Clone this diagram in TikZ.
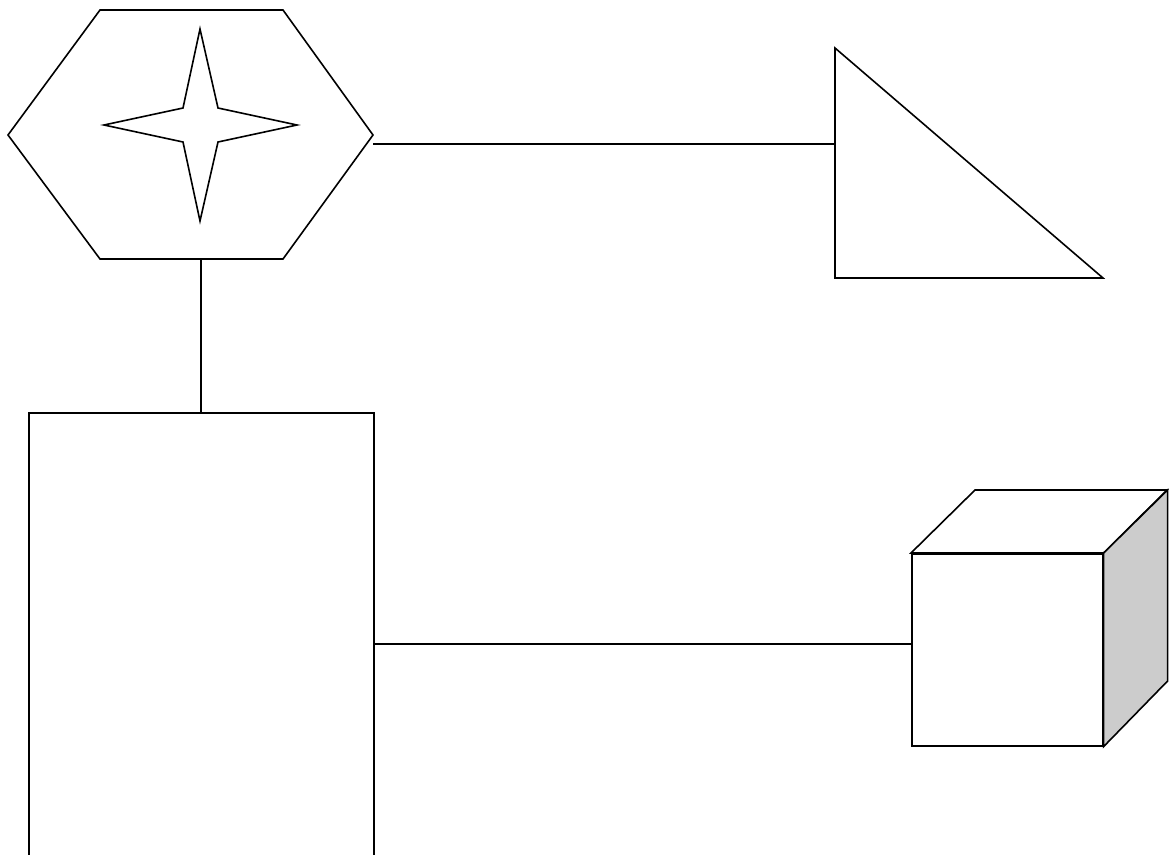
\documentclass[tikz,border=0pt]{standalone}
\begin{document}
\begin{tikzpicture}[x=1pt,y=-1pt,
  shape line/.style={draw=black,line width=1.6pt},
  conn/.style={draw=black,line width=1.5pt},
  box/.style={shape line,rectangle,inner sep=0pt,anchor=north west}]
\clip (0,0) rectangle (1175,854);
\useasboundingbox (0,0) rectangle (1175,854);
% hexagon
\coordinate (hexL) at (8,135);
\coordinate (hexTL) at (100,10);
\coordinate (hexTR) at (283,10);
\coordinate (hexR) at (373,135);
\coordinate (hexBR) at (283,259);
\coordinate (hexBL) at (100,259);
\coordinate (hexB) at (201,259);
\path[shape line,fill=white] (hexL) -- (hexTL) -- (hexTR) -- (hexR) -- (hexBR) -- (hexBL) -- cycle;
% star
\path[shape line] (200,29) -- (218,108) -- (297,125) -- (218,142) -- (200,221) -- (183,142) -- (104,125) -- (183,108) -- cycle;
% triangle
\coordinate (triT) at (835,48);
\coordinate (triBL) at (835,278);
\coordinate (triBR) at (1103,278);
\path[shape line] (triT) -- (triBL) -- (triBR) -- cycle;
% rectangle
\node[box,minimum width=345pt,minimum height=470pt] (rect) at (28,412) {};
% cube
\node[box,minimum width=191pt,minimum height=192pt] (cube) at (911,553) {};
\path[shape line,fill=white] (cube.north west) -- ++(64,-63) -- ++(192,0) -- (cube.north east) -- cycle;
\path[shape line,fill=black!20] (cube.north east) -- ++(64,-63) -- ++(0,191) -- (cube.south east) -- cycle;
% connectors
\coordinate (ya) at (0,144);
\coordinate (yb) at (0,644);
\draw[conn] (hexR |- ya) -- (triT |- ya);
\draw[conn] (hexB) -- (hexB |- rect.north);
\draw[conn] (rect.east |- yb) -- (cube.west |- yb);
\end{tikzpicture}
\end{document}
